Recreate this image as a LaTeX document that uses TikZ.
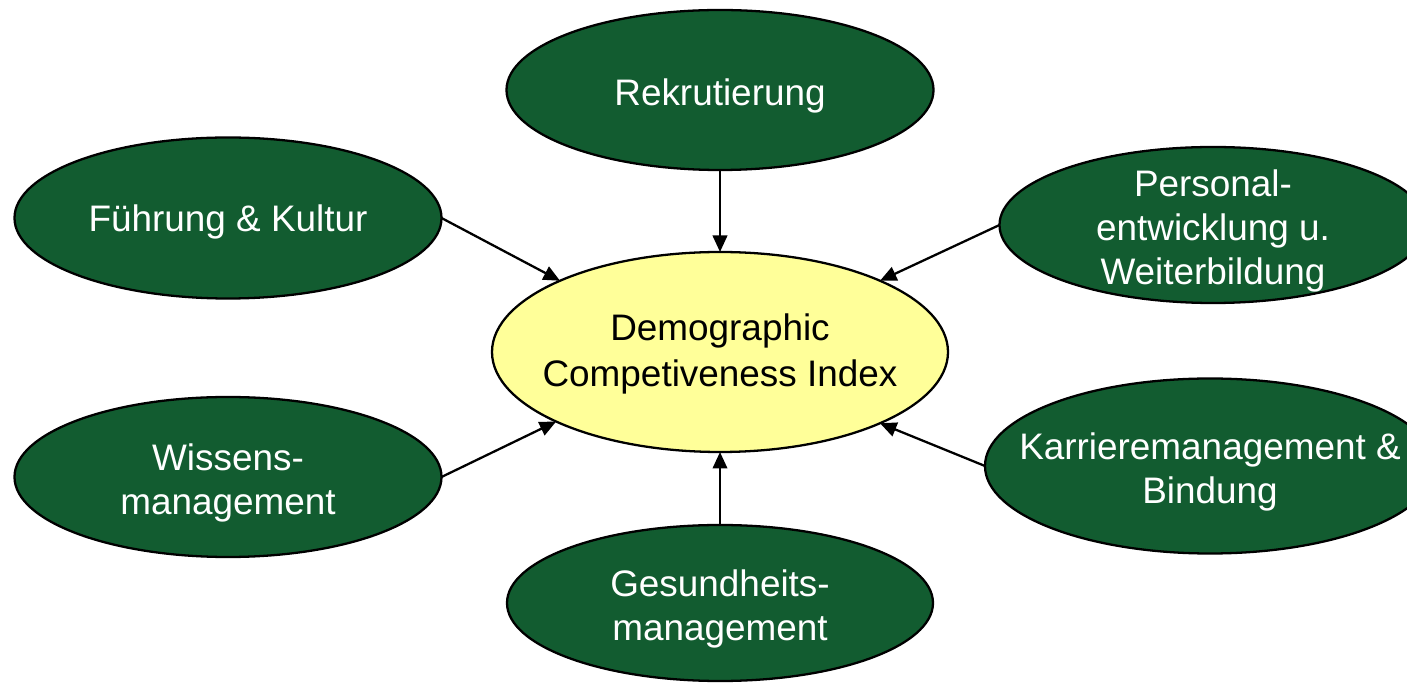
\documentclass[tikz,border=0pt]{standalone}
\usepackage{fontspec}
\setmainfont{Liberation Sans}
\usetikzlibrary{shapes.geometric,arrows.meta}
\definecolor{bubgreen}{RGB}{18,92,48}
\definecolor{dciyellow}{RGB}{255,255,153}

\begin{document}
\begin{tikzpicture}[
    bub/.style={ellipse,draw=black,line width=1.3pt,fill=bubgreen,inner sep=0,outer sep=0,
      minimum width=8.54cm,minimum height=3.2cm},
    txt/.style={align=center,text=white,inner sep=0,yshift=-0.12cm,
      font=\fontsize{21}{25}\selectfont},
    feed/.style={line width=1.3pt,-{Triangle[length=0.33cm,width=0.29cm]}}]
      \clip (0,0) rectangle (28.14,13.68);
      \useasboundingbox (0,0) rectangle (28.14,13.68);
      % centre
      \node[ellipse,draw=black,line width=1.3pt,fill=dciyellow,inner sep=0,outer sep=0,
        minimum width=9.12cm,minimum height=4cm] (dci) at (14.4,6.64) {};
      \node[txt,text=black,yshift=0.08cm,font=\fontsize{21}{26}\selectfont] (dcit) at (dci) {Demographic\\Competiveness Index};
      % outer fields
      \node[bub] (rek) at (14.4,11.88) {};
      \node[txt] (rekt) at (rek) {Rekrutierung};
      \node[bub,minimum height=3.22cm] (fk) at (4.56,9.32) {};
      \node[txt,yshift=0.04cm] (fkt) at (fk) {Führung \& Kultur};
      \node[bub,minimum height=3.12cm] (pe) at (24.26,9.18) {};
      \node[txt] (pet) at (pe) {Personal-\\entwicklung u.\\Weiterbildung};
      \node[bub] (wm) at (4.56,4.14) {};
      \node[txt] (wmt) at (wm) {Wissens-\\management};
      \node[bub,minimum width=9cm,minimum height=3.5cm] (kb) at (24.2,4.36) {};
      \node[txt] (kbt) at (kb) {Karrieremanagement \&\\Bindung};
      \node[bub,minimum width=8.52cm,minimum height=3.12cm] (gm) at (14.4,1.62) {};
      \node[txt] (gmt) at (gm) {Gesundheits-\\management};
      % arrows into the index
      \draw[feed] (rek) -- (dci);
      \draw[feed] (gm) -- (dci);
      \draw[feed] (fk.east) -- (dci.156);
      \draw[feed] (wm.east) -- (dci.203);
      \draw[feed] (pe.west) -- (dci.24.5);
      \draw[feed] (kb.west) -- (dci.336.7);
    \end{tikzpicture}
\end{document}
